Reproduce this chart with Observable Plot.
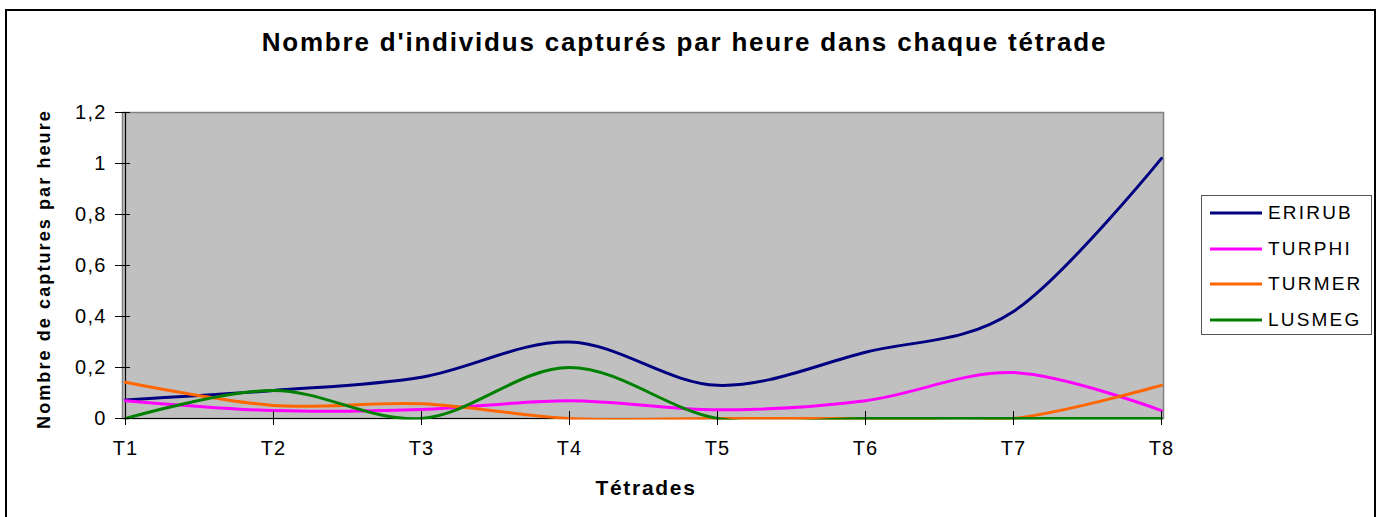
<!DOCTYPE html>
<html>
<head>
<meta charset="utf-8">
<script src="https://cdn.jsdelivr.net/npm/d3@7"></script>
<script src="https://cdn.jsdelivr.net/npm/@observablehq/plot@0.6"></script>
<style>
  body { margin: 0; background: #fff; }
  #wrap { position: relative; width: 1385px; height: 517px; overflow: hidden; font-family: "Liberation Sans", Arial, sans-serif; }
  #border { position: absolute; left: 5px; top: 9px; width: 1371px; height: 520px; border: 2px solid #000; box-sizing: border-box; }
  #title { position: absolute; left: -8px; width: 1385px; top: 27px; text-align: center; font-weight: bold; font-size: 26px; letter-spacing: 1.8px; }
  #xlabel { position: absolute; left: 546px; width: 200px; top: 476px; text-align: center; font-weight: bold; font-size: 21px; letter-spacing: 1.7px; }
  #ylabel { position: absolute; left: 44px; top: 269px; transform: translate(-50%, -50%) rotate(-90deg); white-space: nowrap; font-weight: bold; font-size: 18px; letter-spacing: 2.1px; }
  #legend { position: absolute; left: 1201px; top: 195px; width: 171px; height: 140px; border: 1px solid #555; box-sizing: border-box; background: #fff; }
  .item { position: absolute; left: 8px; height: 24px; display: flex; align-items: center; font-size: 19px; letter-spacing: 2.2px; }
  .item svg { margin-right: 6px; }
  #chart { position: absolute; left: 0; top: 0; }
  #chart svg text { letter-spacing: 1.2px; }
</style>
</head>
<body>
<div id="wrap">
  <div id="border"></div>
  <div id="chart"></div>
  <div id="title"></div>
  <div id="ylabel"></div>
  <div id="xlabel"></div>
  <div id="legend"></div>
</div>
<script>
const tetrades = ["T1", "T2", "T3", "T4", "T5", "T6", "T7", "T8"];
const series = ["ERIRUB", "TURPHI", "TURMER", "LUSMEG"];
const colors = ["#000080", "#FF00FF", "#FF6600", "#008000"];
const ERIRUB = [0.073, 0.11, 0.162, 0.30, 0.13, 0.26, 0.42, 1.02];
const TURPHI = [0.07, 0.031, 0.035, 0.07, 0.034, 0.07, 0.18, 0.031];
const TURMER = [0.142, 0.051, 0.058, 0, 0, 0, 0, 0.13];
const LUSMEG = [0, 0.11, 0, 0.20, 0, 0, 0, 0];
const yTicks = [0, 0.2, 0.4, 0.6, 0.8, 1, 1.2];
const titleText = "Nombre d'individus capturés par heure dans chaque tétrade";
const xLabelText = "Tétrades";
const yLabelText = "Nombre de captures par heure";

const values = {ERIRUB, TURPHI, TURMER, LUSMEG};
const rows = [];
for (const s of series) values[s].forEach((v, i) => rows.push({s, t: tetrades[i], v}));

const fmt = d => String(+d.toFixed(1)).replace(".", ",");

const chart = Plot.plot({
  width: 1385,
  height: 517,
  marginLeft: 122,
  marginRight: 222,
  marginTop: 112,
  marginBottom: 97.5,
  style: {fontFamily: "'Liberation Sans', Arial, sans-serif", fontSize: "20px", color: "#000", background: "transparent", overflow: "visible"},
  x: {type: "point", domain: tetrades, padding: 0},
  y: {domain: [0, 1.2], range: [418, 112]},
  color: {domain: series, range: colors},
  marks: [
    Plot.frame({fill: "#C0C0C0", stroke: "#808080", strokeWidth: 1.5, insetBottom: 1.5}),
    Plot.ruleY([0], {stroke: "#000", strokeWidth: 1.2}),
    Plot.ruleX([tetrades[0]], {y1: 0, y2: 1.2, stroke: "#000", strokeWidth: 1.2}),
    Plot.line(rows, {x: "t", y: "v", z: "s", stroke: "s", strokeWidth: 3, curve: "cardinal", tension: 0, clip: true}),
    Plot.axisY({ticks: yTicks, tickSize: 7, tickPadding: 9, tickFormat: fmt, label: null, stroke: "#000", strokeOpacity: 1}),
    Plot.axisY({ticks: yTicks, tickSize: -8, text: null, label: null, stroke: "#000", strokeOpacity: 1}),
    Plot.axisX({tickSize: 7, tickPadding: 15, label: null, stroke: "#000", strokeOpacity: 1, dy: -1.5}),
    Plot.axisX({tickSize: -7, text: null, label: null, stroke: "#000", strokeOpacity: 1, dy: -1.5})
  ]
});
document.getElementById("chart").appendChild(chart);

document.getElementById("title").textContent = titleText;
document.getElementById("xlabel").textContent = xLabelText;
document.getElementById("ylabel").textContent = yLabelText;

const legend = document.getElementById("legend");
series.forEach((s, i) => {
  const item = document.createElement("div");
  item.className = "item";
  item.style.top = (5 + i * 35.5) + "px";
  item.innerHTML = `<svg width="52" height="6"><line x1="0" x2="52" y1="3" y2="3" stroke="${colors[i]}" stroke-width="3"/></svg><span>${s}</span>`;
  legend.appendChild(item);
});
</script>
</body>
</html>
